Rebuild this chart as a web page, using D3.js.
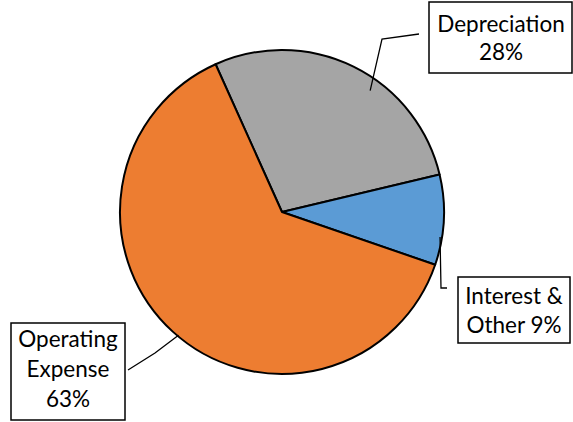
<!DOCTYPE html>
<html>
<head>
<meta charset="utf-8">
<script src="https://cdn.jsdelivr.net/npm/d3@7"></script>
<style>
  body { margin: 0; background: #fff; }
  svg text { font-family: Lato, "Open Sans", sans-serif; fill: #000; }
</style>
</head>
<body>
<svg id="chart"></svg>
<script>
var categories = ["Depreciation", "Interest & Other", "Operating Expense"];
var values = [28, 9, 63];
var labelLines = [
  ["Depreciation", "28%"],
  ["Interest &", "Other 9%"],
  ["Operating", "Expense", "63%"]
];
var colors = ["#A5A5A5", "#5B9BD5", "#ED7D31"];

var width = 573, height = 422;
var cx = 282, cy = 212, radius = 162;

// label boxes and leader lines (layout only)
var boxes = [
  { x: 429, y: 2, w: 143, h: 71, tx: 501, ty: 32, lh: 28,
    leader: [[419, 34], [382, 39]], angle: 36, r: 150 },
  { x: 458, y: 277, w: 112, h: 66, tx: 514, ty: 304, lh: 29,
    leader: [[447, 288], [441, 288]], angle: 99, r: 160 },
  { x: 11, y: 323, w: 114, h: 97, tx: 68, ty: 347, lh: 30,
    leader: [[128, 370], [155, 353]], angle: 220, r: 161 }
];

var svg = d3.select("#chart")
  .attr("width", width)
  .attr("height", height);

var g = svg.append("g")
  .attr("transform", "translate(" + cx + "," + cy + ")");

var start = -24.2 * Math.PI / 180;
var pie = d3.pie().sort(null)
  .startAngle(start)
  .endAngle(start + 2 * Math.PI);
var arc = d3.arc().innerRadius(0).outerRadius(radius);

g.selectAll("path")
  .data(pie(values))
  .enter()
  .append("path")
  .attr("d", arc)
  .attr("fill", function (d, i) { return colors[i]; })
  .attr("stroke", "#000")
  .attr("stroke-width", 2)
  .attr("stroke-linejoin", "round");

// leader lines
var line = d3.line();
boxes.forEach(function (b) {
  var a = b.angle * Math.PI / 180;
  var end = [cx + b.r * Math.sin(a), cy - b.r * Math.cos(a)];
  svg.append("path")
    .attr("d", line(b.leader.concat([end])))
    .attr("fill", "none")
    .attr("stroke", "#000")
    .attr("stroke-width", 1.3);
});

// label boxes
var lab = svg.selectAll(".label")
  .data(boxes)
  .enter()
  .append("g")
  .attr("class", "label");

lab.append("rect")
  .attr("x", function (d) { return d.x; })
  .attr("y", function (d) { return d.y; })
  .attr("width", function (d) { return d.w; })
  .attr("height", function (d) { return d.h; })
  .attr("fill", "#fff")
  .attr("stroke", "#000")
  .attr("stroke-width", 1.5);

lab.each(function (d, i) {
  var t = d3.select(this);
  labelLines[i].forEach(function (s, k) {
    t.append("text")
      .attr("x", d.tx)
      .attr("y", d.ty + k * d.lh)
      .attr("text-anchor", "middle")
      .style("font-size", "22.5px")
      .text(s);
  });
});
</script>
</body>
</html>
